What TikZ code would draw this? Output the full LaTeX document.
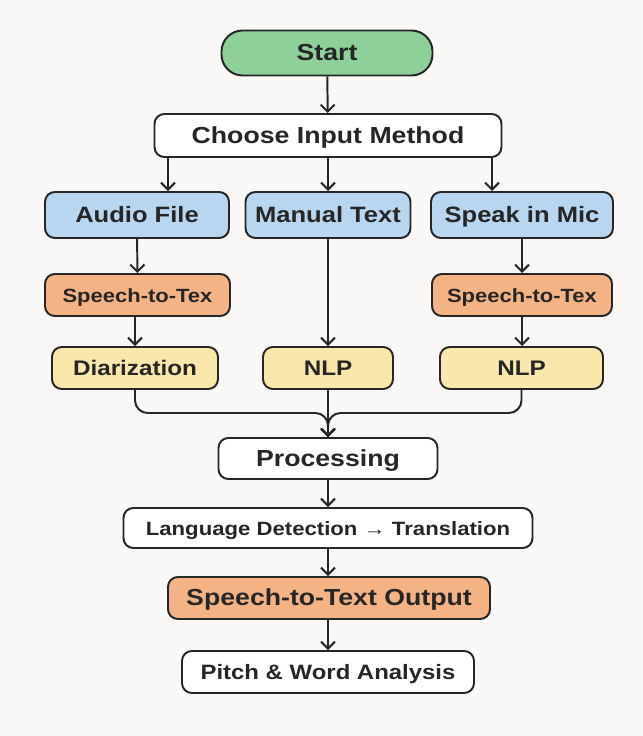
\documentclass[tikz,border=0pt]{standalone}
\usepackage{fontspec}
\setmainfont{Liberation Sans}[FakeStretch=1.15]
\usepackage{tikz}
\usetikzlibrary{arrows.meta, positioning, calc}
\definecolor{ink}{HTML}{262626}
\definecolor{paper}{HTML}{F9F8F6}
\definecolor{startgreen}{HTML}{8ED09A}
\definecolor{inblue}{HTML}{B9D6F1}
\definecolor{sttorange}{HTML}{F4B384}
\definecolor{nlpyellow}{HTML}{FAE7AB}

\begin{document}
\begin{tikzpicture}[
  box/.style={draw=ink, line width=1.4pt, rounded corners=7pt, fill=white, text=ink,
    minimum height=1.05cm, inner sep=2pt, text height=10.8pt, text depth=0pt,
    font=\bfseries\fontsize{16.5pt}{18pt}\selectfont},
  startbox/.style={box, fill=startgreen, rounded corners=15pt, minimum height=1.125cm},
  inbox/.style={box, fill=inblue, minimum height=1.15cm, font=\bfseries\fontsize{15.8pt}{17pt}\selectfont},
  sttbox/.style={box, fill=sttorange, font=\bfseries\fontsize{13.6pt}{15pt}\selectfont},
  nlpbox/.style={box, fill=nlpyellow, font=\bfseries\fontsize{15pt}{17pt}\selectfont},
  arr/.style={draw=ink, line width=1.4pt, -{Straight Barb[length=5pt,width=10pt,line width=1.4pt]}}
]
  \fill[paper] (0,0) rectangle (16.05,18.4);
  \useasboundingbox (0,0) rectangle (16.05,18.4);

  % top of the chart
  \node[startbox, minimum width=5.275cm] (start) at (8.175,17.075) {Start};
  \node[box, minimum width=8.675cm, minimum height=1.075cm] (choose) at (8.2,15.0125) {Choose Input Method};

  % three input branches
  \node[inbox, minimum width=4.6cm] (audio) at (3.425,13.025) {Audio File};
  \node[inbox, minimum width=4.125cm] (manual) at (8.2,13.025) {Manual Text};
  \node[inbox, minimum width=4.55cm] (mic) at (13.05,13.025) {Speak in Mic};

  \node[sttbox, minimum width=4.625cm] (stt l) at (3.4375,11.025) {Speech-to-Tex};
  \node[sttbox, minimum width=4.5cm] (stt r) at (13.05,11.025) {Speech-to-Tex};

  \node[nlpbox, minimum width=4.15cm] (diar) at (3.375,9.2) {Diarization};
  \node[nlpbox, minimum width=3.25cm] (nlp m) at (8.2,9.2) {NLP};
  \node[nlpbox, minimum width=4.075cm] (nlp r) at (13.0375,9.2) {NLP};

  % common chain
  \node[box, minimum width=5.475cm, minimum height=1.025cm] (proc) at (8.2,6.9375) {Processing};
  \node[box, minimum width=10.225cm, minimum height=1.0cm,
    font=\bfseries\fontsize{13.7pt}{15pt}\selectfont] (lang) at (8.2,5.2) {Language Detection → Translation};
  \node[box, fill=sttorange, minimum width=8.05cm] (out) at (8.225,3.45) {Speech-to-Text Output};
  \node[box, minimum width=7.3cm, font=\bfseries\fontsize{14.8pt}{16pt}\selectfont] (pitch) at (8.2,1.6) {Pitch \& Word Analysis};

  \coordinate (split l) at (4.2,0);
  \coordinate (split r) at (12.3,0);
  \coordinate (merge) at (8.2,8.075);

  \draw[arr] (start) -- (choose);
  \draw[arr] (choose.south -| split l) -- (audio.north -| split l);
  \draw[arr] (choose) -- (manual);
  \draw[arr] (choose.south -| split r) -- (mic.north -| split r);

  \draw[arr] (audio) -- (stt l);
  \draw[arr] (stt l.south -| diar.north) -- (diar);
  \draw[arr] (manual) -- (nlp m);
  \draw[arr] (mic) -- (stt r);
  \draw[arr] (stt r) -- (nlp r.north -| stt r.south);

  \draw[arr, rounded corners=9pt] (diar.south) |- (merge) -- (proc.north);
  \draw[arr, rounded corners=9pt] (nlp r.south) |- (merge) -- (proc.north);
  \draw[arr] (nlp m) -- (proc);

  \draw[arr] (proc) -- (lang);
  \draw[arr] (lang) -- (out.north -| lang.south);
  \draw[arr] (out.south -| pitch.north) -- (pitch);
\end{tikzpicture}
\end{document}
